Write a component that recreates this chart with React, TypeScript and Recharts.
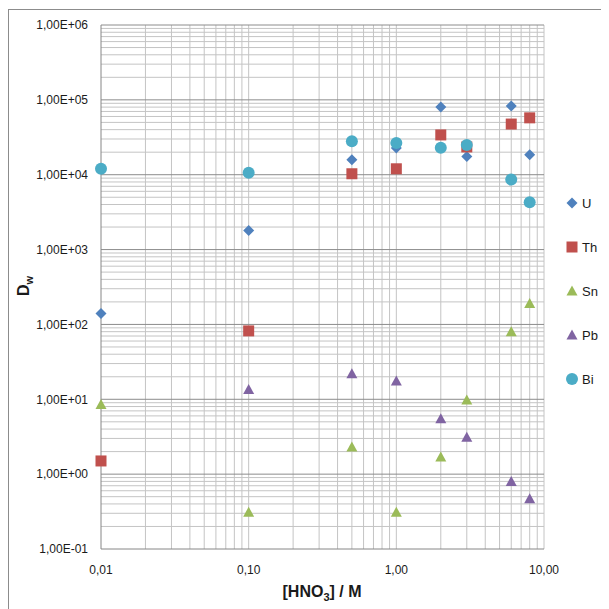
import { ScatterChart, Scatter, XAxis, YAxis, ReferenceLine } from "recharts";

// [HNO3] concentrations (M)
const concentrations = [0.01, 0.1, 0.5, 1, 2, 3, 6, 8];

// distribution ratios Dw per element (null = not measured)
const uValues = [140, 1800, 15800, 22800, 80000, 17500, 83000, 18500];
const thValues = [1.5, 82, 10300, 12000, 34000, 23500, 47500, 57500];
const snValues = [8.5, 0.31, 2.3, 0.31, 1.7, 9.8, 80, 190];
const pbValues = [null, 13.5, 22, 17.5, 5.5, 3.1, 0.8, 0.47];
const biValues = [12000, 10600, 28000, 26500, 23000, 25000, 8600, 4300];

const xTicks = [0.01, 0.1, 1, 10];
const yTicks = [0.1, 1, 10, 100, 1000, 10000, 100000, 1000000];

const mult = [2, 3, 4, 5, 6, 7, 8, 9];
const xMinor = xTicks.slice(0, -1).flatMap((d) => mult.map((m) => +(d * m).toPrecision(3)));
const yMinor = yTicks.slice(0, -1).flatMap((d) => mult.map((m) => +(d * m).toPrecision(3)));

const series = [
  { name: "U", values: uValues, color: "#4F81BD", shape: "diamond" },
  { name: "Th", values: thValues, color: "#C0504D", shape: "square" },
  { name: "Sn", values: snValues, color: "#9BBB59", shape: "triangle" },
  { name: "Pb", values: pbValues, color: "#8064A2", shape: "triangle" },
  { name: "Bi", values: biValues, color: "#4BACC6", shape: "circle" },
];

const toPoints = (values: (number | null)[]) =>
  concentrations
    .map((x, i) => ({ x, y: values[i] }))
    .filter((p) => p.y != null);

const fmtX = (v: number) => v.toFixed(2).replace(".", ",");
const fmtY = (v: number) => {
  const e = Math.round(Math.log10(v));
  return `1,00E${e < 0 ? "-" : "+"}${String(Math.abs(e)).padStart(2, "0")}`;
};

const Marker = ({ shape, color, cx, cy }: { shape: string; color: string; cx: number; cy: number }) => {
  if (shape === "diamond")
    return <path d={`M${cx},${cy - 5.5}L${cx + 5.5},${cy}L${cx},${cy + 5.5}L${cx - 5.5},${cy}Z`} fill={color} />;
  if (shape === "square") return <rect x={cx - 5.5} y={cy - 5.5} width={11} height={11} fill={color} />;
  if (shape === "triangle")
    return <path d={`M${cx},${cy - 5.5}L${cx + 5.5},${cy + 4.5}L${cx - 5.5},${cy + 4.5}Z`} fill={color} />;
  return <circle cx={cx} cy={cy} r={6} fill={color} />;
};

export default function App() {
  return (
    <div style={{ position: "relative", width: 601, height: 601, fontFamily: "Liberation Sans, Arial, sans-serif" }}>
      <div
        style={{
          position: "absolute",
          left: 0,
          top: 1,
          width: 601,
          height: 600,
          borderTop: "1px solid #8c8c8c",
          borderLeft: "1px solid #8c8c8c",
          boxSizing: "border-box",
          pointerEvents: "none",
        }}
      />
      <ScatterChart width={601} height={601} margin={{ top: 17, right: 65, left: 0, bottom: 0 }}>
        <XAxis
          type="number"
          dataKey="x"
          scale="log"
          domain={[0.01, 10]}
          ticks={xTicks}
          tickFormatter={fmtX}
          tickLine={false}
          tickSize={0}
          tickMargin={16}
          axisLine={{ stroke: "#868686" }}
          tick={{ fontSize: 12, fill: "#1a1a1a" }}
          height={60}
        />
        <YAxis
          type="number"
          dataKey="y"
          scale="log"
          domain={[0.1, 1000000]}
          ticks={yTicks}
          tickFormatter={fmtY}
          tickLine={false}
          tickSize={0}
          tickMargin={13}
          axisLine={{ stroke: "#868686" }}
          tick={{ fontSize: 12, fill: "#1a1a1a" }}
          width={93}
        />
        {[...xMinor, ...xTicks.slice(1)].map((v) => (
          <ReferenceLine key={`vx${v}`} x={v} stroke="#c4c4c4" />
        ))}
        {yMinor.map((v) => (
          <ReferenceLine key={`hy${v}`} y={v} stroke="#c4c4c4" />
        ))}
        {yTicks.slice(1).map((v) => (
          <ReferenceLine key={`my${v}`} y={v} stroke="#8c8c8c" />
        ))}
        {series.map((s) => (
          <Scatter
            key={s.name}
            name={s.name}
            data={toPoints(s.values)}
            fill={s.color}
            isAnimationActive={false}
            shape={(p: any) => <Marker shape={s.shape} color={s.color} cx={p.cx} cy={p.cy} />}
          />
        ))}
      </ScatterChart>
      <div
        style={{
          position: "absolute",
          left: 557,
          top: 173,
          fontSize: 13,
          color: "#1a1a1a",
        }}
      >
        {series.map((s) => (
          <div key={s.name} style={{ height: 44, display: "flex", alignItems: "center" }}>
            <svg width={14} height={14} style={{ marginRight: 3 }}>
              <Marker shape={s.shape} color={s.color} cx={7} cy={7} />
            </svg>
            <span>{s.name}</span>
          </div>
        ))}
      </div>
      <div
        style={{
          position: "absolute",
          left: 17,
          top: 278,
          transform: "translate(-50%, -50%) rotate(-90deg)",
          fontWeight: "bold",
          fontSize: 16,
          color: "#1a1a1a",
          whiteSpace: "nowrap",
        }}
      >
        D<sub style={{ fontSize: 11 }}>w</sub>
      </div>
      <div
        style={{
          position: "absolute",
          left: 314,
          top: 585,
          transform: "translate(-50%, -50%)",
          fontWeight: "bold",
          fontSize: 16,
          color: "#1a1a1a",
          whiteSpace: "nowrap",
        }}
      >
        [HNO<sub style={{ fontSize: 11 }}>3</sub>] / M
      </div>
    </div>
  );
}
